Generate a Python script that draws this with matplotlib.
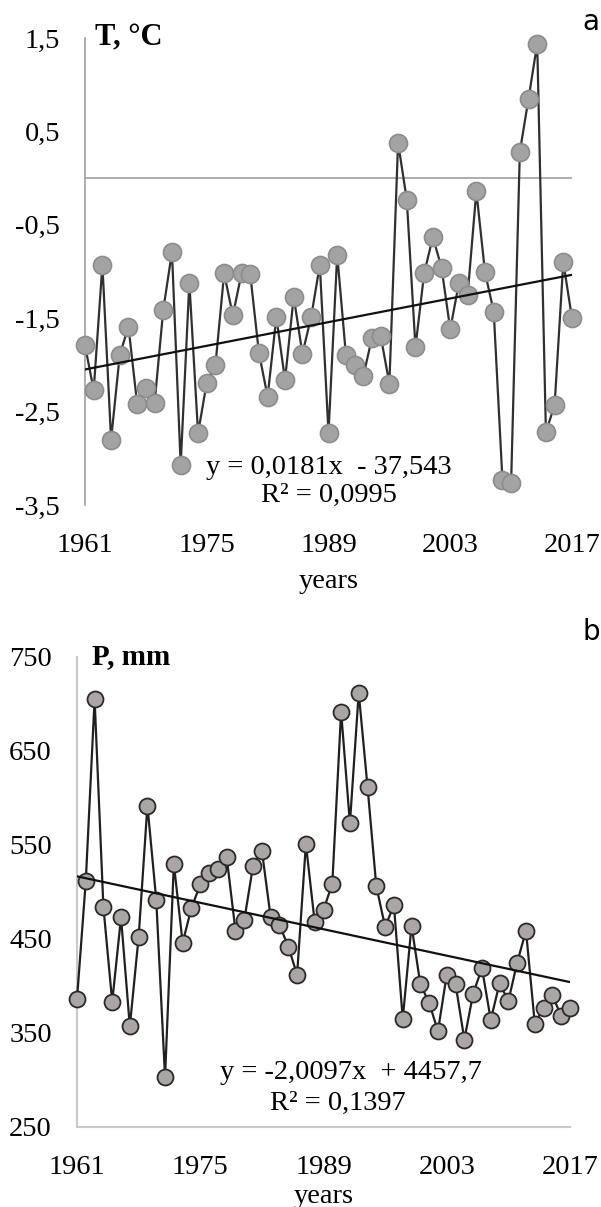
import numpy as np
import matplotlib.pyplot as plt

years = list(range(1961, 2018))

# mean annual temperature, deg C
temp = [-1.79, -2.27, -0.93, -2.80, -1.89, -1.59, -2.42, -2.25, -2.41, -1.41,
        -0.79, -3.07, -1.12, -2.73, -2.19, -2.00, -1.02, -1.47, -1.02, -1.03,
        -1.87, -2.34, -1.49, -2.16, -1.27, -1.88, -1.49, -0.93, -2.73, -0.82,
        -1.89, -2.00, -2.12, -1.71, -1.69, -2.20, 0.38, -0.23, -1.81, -1.02,
        -0.63, -0.96, -1.62, -1.12, -1.25, -0.14, -1.01, -1.43, -3.23, -3.26,
        0.28, 0.85, 1.44, -2.72, -2.43, -0.90, -1.50]

# annual precipitation, mm
prec = [386, 512, 705, 484, 383, 473, 357, 452, 592, 492,
        303, 530, 446, 483, 508, 520, 524, 537, 459, 470,
        528, 544, 473, 465, 442, 412, 551, 468, 481, 509,
        692, 573, 712, 612, 506, 463, 486, 365, 464, 402,
        382, 352, 412, 402, 343, 392, 419, 364, 403, 384,
        425, 459, 360, 377, 390, 368, 377]

# trend lines as given on the chart
t_slope, t_icpt = 0.0181, -37.543
p_slope, p_icpt = -2.0097, 4457.7

x_ticks = [1961, 1975, 1989, 2003, 2017]
t_ticks = [1.5, 0.5, -0.5, -1.5, -2.5, -3.5]
p_ticks = [750, 650, 550, 450, 350, 250]

plt.rcParams['font.family'] = ['Liberation Serif', 'DejaVu Serif']

fig = plt.figure(figsize=(6.01, 12.07), dpi=100)
ax1 = fig.add_axes([85 / 601, 1 - 505 / 1207, 487 / 601, 467 / 1207])
ax2 = fig.add_axes([77 / 601, 1 - 1127 / 1207, 493 / 601, 470 / 1207])

yr = np.array(years)

# panel a - temperature
ax1.axhline(0, color='#a0a0a0', lw=1.2, zorder=1)
ax1.plot(years, temp, color='#303030', lw=1.6, marker='o', ms=13,
         mfc='#a3a3a3', mec='#8c8c8c', mew=1.2, zorder=3, clip_on=False)
ax1.plot(yr, t_slope * yr + t_icpt, color='#111111', lw=1.6, zorder=4)
ax1.set_xlim(1961, 2017)
ax1.set_ylim(-3.5, 1.5)
ax1.set_yticks(t_ticks)
ax1.set_yticklabels([f'{v:.1f}'.replace('.', ',') for v in t_ticks])
ax1.set_xticks(x_ticks)
for s in ['top', 'right', 'bottom']:
    ax1.spines[s].set_visible(False)
ax1.spines['left'].set_color('#a0a0a0')
ax1.spines['left'].set_linewidth(1.2)
ax1.tick_params(axis='both', length=0, labelsize=20.5)
ax1.tick_params(axis='y', pad=18)
ax1.tick_params(axis='x', pad=20)
ax1.set_xlabel('years', fontsize=20.5, labelpad=8)
ax1.text(0.02, 1.0, 'T, \u00b0C', transform=ax1.transAxes, fontsize=22,
         fontweight='bold', va='center', ha='left')
ax1.text(0.5, 0.08, 'y = 0,0181x  - 37,543', transform=ax1.transAxes,
         fontsize=20.5, ha='center', va='center')
ax1.text(0.5, 0.02, 'R\u00b2 = 0,0995', transform=ax1.transAxes,
         fontsize=20.5, ha='center', va='center')
fig.text(591 / 601, 1 - 22 / 1207, 'a', fontsize=20, family='DejaVu Sans',
         ha='center', va='center')

# panel b - precipitation
ax2.plot(years, prec, color='#202020', lw=1.6, marker='o', ms=11.5,
         mfc='#aaa6a6', mec='#2a2a2a', mew=1.3, zorder=3, clip_on=False)
ax2.plot(yr, p_slope * yr + p_icpt, color='#111111', lw=1.6, zorder=4)
ax2.set_xlim(1961, 2017)
ax2.set_ylim(250, 750)
ax2.set_yticks(p_ticks)
ax2.set_xticks(x_ticks)
for s in ['top', 'right']:
    ax2.spines[s].set_visible(False)
for s in ['left', 'bottom']:
    ax2.spines[s].set_color('#c8c8c8')
    ax2.spines[s].set_linewidth(1.5)
ax2.tick_params(axis='both', length=0, labelsize=20.5)
ax2.tick_params(axis='y', pad=18)
ax2.tick_params(axis='x', pad=20)
ax2.set_xlabel('years', fontsize=20.5, labelpad=3)
ax2.text(0.03, 1.0, 'P, mm', transform=ax2.transAxes, fontsize=21,
         fontweight='bold', va='center', ha='left')
ax2.text(0.555, 0.115, 'y = -2,0097x  + 4457,7', transform=ax2.transAxes,
         fontsize=20.5, ha='center', va='center')
ax2.text(0.53, 0.05, 'R\u00b2 = 0,1397', transform=ax2.transAxes,
         fontsize=20.5, ha='center', va='center')
fig.text(591 / 601, 1 - 632 / 1207, 'b', fontsize=20, family='DejaVu Sans',
         ha='center', va='center')

fig.savefig('out.png', dpi=100)
